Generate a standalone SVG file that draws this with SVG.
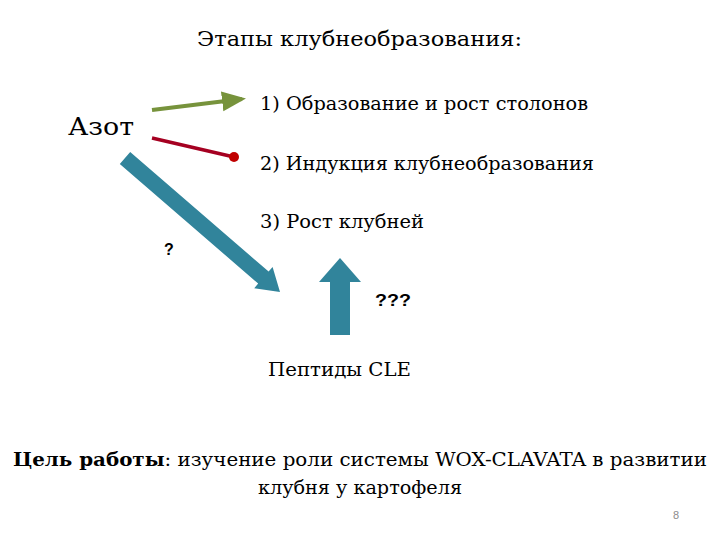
<svg xmlns="http://www.w3.org/2000/svg" width="720" height="540" viewBox="0 0 720 540">
<defs>
<marker id="ga" markerWidth="6" markerHeight="6" refX="5" refY="3" orient="auto" markerUnits="strokeWidth">
<path d="M0,0.5 L6,3 L0,5.5 Z" fill="#77933C"/>
</marker>
</defs>
<rect width="720" height="540" fill="#fff"/>
<g font-family="'DejaVu Serif', 'Liberation Serif', serif" fill="#000">
<g id="title"><text x="197" y="46" font-size="20" textLength="325" lengthAdjust="spacingAndGlyphs">Этапы клубнеобразования:</text></g>
<g id="azot"><text x="68" y="135" font-size="24" textLength="66" lengthAdjust="spacingAndGlyphs">Азот</text></g>
<g id="stage1"><text x="260" y="110" font-size="18" textLength="328" lengthAdjust="spacingAndGlyphs">1) Образование и рост столонов</text></g>
<g id="stage2"><text x="260" y="170" font-size="18" textLength="334" lengthAdjust="spacingAndGlyphs">2) Индукция клубнеобразования</text></g>
<g id="stage3"><text x="260" y="228" font-size="18" textLength="164" lengthAdjust="spacingAndGlyphs">3) Рост клубней</text></g>
<g id="cle"><text x="268" y="376" font-size="18" textLength="143" lengthAdjust="spacingAndGlyphs">Пептиды CLE</text></g>
<g id="goal">
<text x="13" y="466" font-size="19" textLength="694" lengthAdjust="spacingAndGlyphs"><tspan font-weight="bold">Цель работы</tspan>: изучение роли системы WOX-CLAVATA в развитии</text>
<text x="258" y="494" font-size="19" textLength="204" lengthAdjust="spacingAndGlyphs">клубня у картофеля</text>
</g>
</g>
<g font-family="'Liberation Sans', sans-serif" font-weight="bold" fill="#000">
<g id="q1"><text x="164" y="255" font-size="16">?</text></g>
<g id="q3"><text x="375" y="306" font-size="16" textLength="36" lengthAdjust="spacingAndGlyphs">???</text></g>
</g>
<g id="connectors">
<line x1="152" y1="110" x2="242" y2="99" stroke="#77933C" stroke-width="4" marker-end="url(#ga)"/>
<line x1="152" y1="138" x2="234" y2="157" stroke="#A50021" stroke-width="3.5"/>
<circle cx="234" cy="157" r="5" fill="#C00000"/>
<polygon points="130.2,152 268.6,271.6 272.6,267 280,292 254.2,288.2 258.2,283.6 119.8,164" fill="#31849B"/>
<polygon points="330,335 350,335 350,282 361,282 340,258 319,282 330,282" fill="#31849B"/>
</g>
<g id="page"><text x="673" y="519" font-family="'Liberation Sans', sans-serif" font-size="11" fill="#8C8C8C">8</text></g>
</svg>
